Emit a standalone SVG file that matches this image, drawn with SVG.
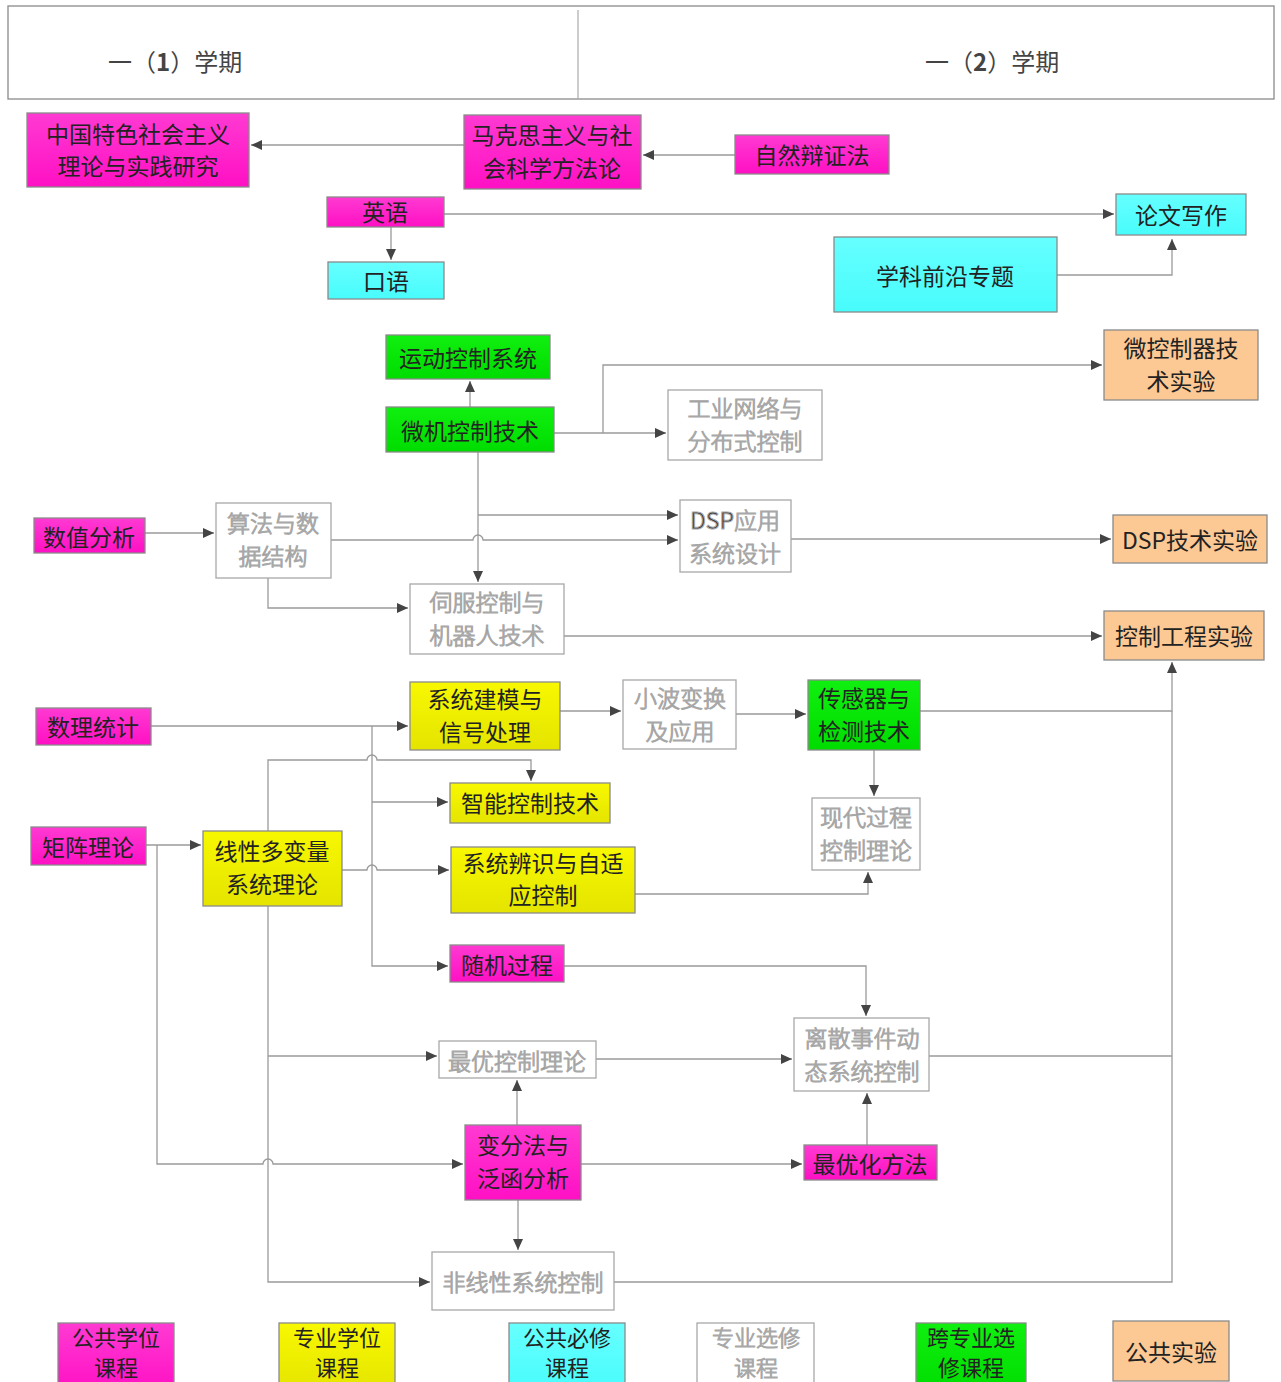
<svg xmlns="http://www.w3.org/2000/svg" width="1281" height="1382" viewBox="0 0 1281 1382">
<defs>
<marker id="ah" markerWidth="12" markerHeight="10" refX="11" refY="5" orient="auto" markerUnits="userSpaceOnUse">
<path d="M0,0 L11,5 L0,10 Z" fill="#444"/>
</marker>
<linearGradient id="gm" x1="0" y1="0" x2="0" y2="1"><stop offset="0" stop-color="#ff3ad2"/><stop offset="1" stop-color="#ff10c4"/></linearGradient>
<linearGradient id="gy" x1="0" y1="0" x2="0" y2="1"><stop offset="0" stop-color="#f8f800"/><stop offset="1" stop-color="#e4e400"/></linearGradient>
<linearGradient id="gc" x1="0" y1="0" x2="0" y2="1"><stop offset="0" stop-color="#66ffff"/><stop offset="1" stop-color="#48fcfc"/></linearGradient>
<linearGradient id="gg" x1="0" y1="0" x2="0" y2="1"><stop offset="0" stop-color="#10f010"/><stop offset="1" stop-color="#00dc00"/></linearGradient>
</defs>
<style>
text{font-family:"Noto Sans CJK SC","Liberation Sans",sans-serif;font-size:23px;text-anchor:middle;dominant-baseline:central;fill:#222}
rect{stroke:#8a8a8a;stroke-width:1.3}
rect.bg{stroke:none;fill:#fff}
.m{fill:url(#gm)}
.y{fill:url(#gy)}
.c{fill:url(#gc)}
.g{fill:url(#gg)}
.o{fill:#fcc894}
.w{fill:#fff;stroke:#a8a8a8}
.w text{fill:#8a8a8a;font-weight:300}
.hd{font-size:24px;fill:#444;text-anchor:start}
.lg text{font-size:22px}
#connectors path{fill:none;stroke:#9a9a9a;stroke-width:1.3}
#connectors path.a{marker-end:url(#ah)}
</style>
<rect class="bg" x="0" y="0" width="1281" height="1382"/>
<g id="header">
<rect x="8" y="6" width="1266" height="93" fill="#fff" stroke="#999"/>
<line x1="578" y1="10" x2="578" y2="99" stroke="#aaa" stroke-width="1.2"/>
<text class="hd" x="108" y="60">一（<tspan font-weight="bold">1</tspan>）学期</text>
<text class="hd" x="925" y="60">一（<tspan font-weight="bold">2</tspan>）学期</text>
</g>
<g id="connectors">
<path class="a" d="M464,145 H251"/>
<path class="a" d="M735,155 H643"/>
<path class="a" d="M444,214 H1114"/>
<path class="a" d="M391,227 V260"/>
<path class="a" d="M1057,275 H1172 V239"/>
<path class="a" d="M470,407 V381"/>
<path class="a" d="M554,433 H666"/>
<path class="a" d="M603,433 V365 H1102"/>
<path class="a" d="M478,452 V582"/>
<path class="a" d="M478,515 H678"/>
<path class="a" d="M331,540 H473 A5,5 0 0 1 483,540 H678"/>
<path class="a" d="M145,533 H214"/>
<path class="a" d="M268,578 V608 H408"/>
<path class="a" d="M791,539 H1111"/>
<path class="a" d="M564,636 H1102"/>
<path class="a" d="M920,711 H1172 V662"/>
<path d="M929,1056 H1172"/>
<path d="M614,1282 H1172 V711"/>
<path class="a" d="M151,726 H408"/>
<path class="a" d="M372,726 V966 H448"/>
<path class="a" d="M372,802 H448"/>
<path class="a" d="M560,711 H621"/>
<path class="a" d="M736,714 H806"/>
<path class="a" d="M874,750 V796"/>
<path class="a" d="M635,894 H868 V872"/>
<path class="a" d="M146,845 H201"/>
<path class="a" d="M157,845 V1164 H263 A5,5 0 0 1 273,1164 H463"/>
<path class="a" d="M268,831 V760 H367 A5,5 0 0 1 377,760 H531 V781"/>
<path class="a" d="M342,870 H367 A5,5 0 0 1 377,870 H449"/>
<path class="a" d="M268,906 V1282 H430"/>
<path class="a" d="M268,1056 H437"/>
<path class="a" d="M564,966 H866 V1016"/>
<path class="a" d="M596,1059 H792"/>
<path class="a" d="M517,1125 V1080"/>
<path class="a" d="M581,1164 H802"/>
<path class="a" d="M518,1200 V1250"/>
<path class="a" d="M867,1145 V1093"/>
</g>
<g id="n1"><rect class="m" x="27" y="113" width="222" height="74"/><text x="138" y="133">中国特色社会主义</text><text x="138" y="165">理论与实践研究</text></g>
<g id="n2"><rect class="m" x="464" y="115" width="177" height="74"/><text x="552" y="134">马克思主义与社</text><text x="552" y="167">会科学方法论</text></g>
<g id="n3"><rect class="m" x="735" y="135" width="154" height="39"/><text x="812" y="154">自然辩证法</text></g>
<g id="n4"><rect class="m" x="327" y="197" width="117" height="30"/><text x="385" y="211">英语</text></g>
<g id="n5"><rect class="c" x="328" y="262" width="116" height="37"/><text x="386" y="280">口语</text></g>
<g id="n6"><rect class="c" x="1116" y="194" width="130" height="41"/><text x="1181" y="214">论文写作</text></g>
<g id="n7"><rect class="c" x="834" y="237" width="223" height="75"/><text x="945" y="275">学科前沿专题</text></g>
<g id="n8"><rect class="g" x="386" y="335" width="164" height="44"/><text x="468" y="357">运动控制系统</text></g>
<g id="n9"><rect class="g" x="386" y="407" width="168" height="45"/><text x="470" y="430">微机控制技术</text></g>
<g id="n10" class="w"><rect class="w" x="668" y="390" width="154" height="70"/><text x="745" y="407">工业网络与</text><text x="745" y="440">分布式控制</text></g>
<g id="n11"><rect class="o" x="1104" y="330" width="154" height="70"/><text x="1181" y="347">微控制器技</text><text x="1181" y="380">术实验</text></g>
<g id="n12"><rect class="m" x="34" y="518" width="111" height="35"/><text x="89" y="536">数值分析</text></g>
<g id="n13" class="w"><rect class="w" x="216" y="503" width="115" height="75"/><text x="273" y="522">算法与数</text><text x="273" y="555">据结构</text></g>
<g id="n14" class="w"><rect class="w" x="680" y="500" width="111" height="72"/><text x="735" y="519"><tspan fill="#333" font-weight="400">DSP</tspan>应用</text><text x="735" y="552">系统设计</text></g>
<g id="n15"><rect class="o" x="1113" y="515" width="154" height="48"/><text x="1190" y="539">DSP技术实验</text></g>
<g id="n16" class="w"><rect class="w" x="410" y="584" width="154" height="70"/><text x="487" y="601">伺服控制与</text><text x="487" y="634">机器人技术</text></g>
<g id="n17"><rect class="o" x="1104" y="611" width="160" height="49"/><text x="1184" y="635">控制工程实验</text></g>
<g id="n18"><rect class="m" x="36" y="708" width="115" height="37"/><text x="93" y="726">数理统计</text></g>
<g id="n19"><rect class="y" x="410" y="682" width="150" height="68"/><text x="485" y="698">系统建模与</text><text x="485" y="731">信号处理</text></g>
<g id="n20" class="w"><rect class="w" x="623" y="680" width="113" height="69"/><text x="680" y="697">小波变换</text><text x="680" y="730">及应用</text></g>
<g id="n21"><rect class="g" x="808" y="680" width="112" height="70"/><text x="864" y="697">传感器与</text><text x="864" y="730">检测技术</text></g>
<g id="n22"><rect class="y" x="450" y="783" width="160" height="40"/><text x="530" y="802">智能控制技术</text></g>
<g id="n23"><rect class="m" x="31" y="827" width="115" height="38"/><text x="88" y="846">矩阵理论</text></g>
<g id="n24"><rect class="y" x="203" y="831" width="139" height="75"/><text x="272" y="850">线性多变量</text><text x="272" y="883">系统理论</text></g>
<g id="n25"><rect class="y" x="451" y="847" width="184" height="66"/><text x="543" y="862">系统辨识与自适</text><text x="543" y="894">应控制</text></g>
<g id="n26" class="w"><rect class="w" x="812" y="798" width="108" height="72"/><text x="866" y="816">现代过程</text><text x="866" y="849">控制理论</text></g>
<g id="n27"><rect class="m" x="450" y="945" width="114" height="37"/><text x="507" y="964">随机过程</text></g>
<g id="n28" class="w"><rect class="w" x="794" y="1018" width="135" height="73"/><text x="862" y="1037">离散事件动</text><text x="862" y="1070">态系统控制</text></g>
<g id="n29" class="w"><rect class="w" x="439" y="1041" width="157" height="37"/><text x="517" y="1060">最优控制理论</text></g>
<g id="n30"><rect class="m" x="465" y="1125" width="116" height="75"/><text x="523" y="1144">变分法与</text><text x="523" y="1177">泛函分析</text></g>
<g id="n31"><rect class="m" x="804" y="1145" width="133" height="35"/><text x="870" y="1163">最优化方法</text></g>
<g id="n32" class="w"><rect class="w" x="432" y="1252" width="182" height="58"/><text x="523" y="1281">非线性系统控制</text></g>
<g id="legend1" class="lg"><rect class="m" x="58" y="1323" width="116" height="70"/><text x="116" y="1336">公共学位</text><text x="116" y="1366">课程</text></g>
<g id="legend2" class="lg"><rect class="y" x="279" y="1323" width="116" height="70"/><text x="337" y="1336">专业学位</text><text x="337" y="1366">课程</text></g>
<g id="legend3" class="lg"><rect class="c" x="509" y="1323" width="116" height="70"/><text x="567" y="1336">公共必修</text><text x="567" y="1366">课程</text></g>
<g id="legend4" class="lg w"><rect class="w" x="697" y="1323" width="117" height="70"/><text x="756" y="1336">专业选修</text><text x="756" y="1366">课程</text></g>
<g id="legend5" class="lg"><rect class="g" x="916" y="1323" width="110" height="70"/><text x="971" y="1336">跨专业选</text><text x="971" y="1366">修课程</text></g>
<g id="legend6"><rect class="o" x="1113" y="1321" width="116" height="60"/><text x="1171" y="1351">公共实验</text></g>
</svg>
